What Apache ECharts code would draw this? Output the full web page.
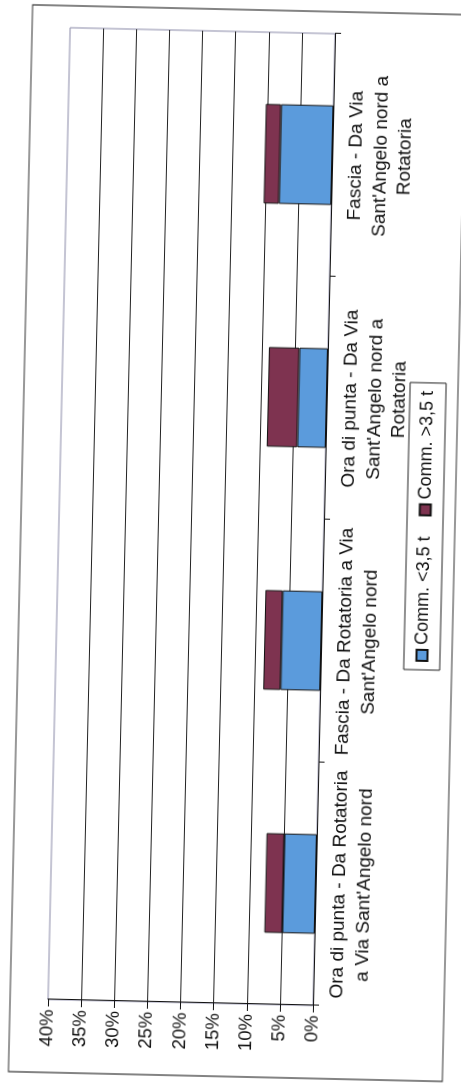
<!DOCTYPE html>
<html>
<head>
<meta charset="utf-8">
<script src="https://cdn.jsdelivr.net/npm/echarts@6/dist/echarts.min.js"></script>
<style>
  html, body { margin: 0; padding: 0; width: 461px; height: 1084px; overflow: hidden; background: #ffffff; }
  #chart { position: absolute; width: 1084px; height: 461px; left: -311.5px; top: 311.5px; transform: rotate(-88.7deg); }
</style>
</head>
<body>
<div id="chart"></div>
<script>
const categories = [
  "Ora di punta - Da Rotatoria\na Via Sant'Angelo nord",
  "Fascia - Da Rotatoria a Via\nSant'Angelo nord",
  "Ora di punta - Da Via\nSant'Angelo nord a\nRotatoria",
  "Fascia - Da Via\nSant'Angelo nord a\nRotatoria"
];
const seriesNames = ["Comm. <3,5 t", "Comm. >3,5 t"];
const commLight = [4.9, 6.0, 4.3, 7.9];
const commHeavy = [2.7, 2.6, 4.6, 2.3];
const yTicks = { min: 0, max: 40, interval: 5 };

const FONT = "'Liberation Sans', Arial, sans-serif";
const chart = echarts.init(document.getElementById('chart'), null, { renderer: 'canvas' });
chart.setOption({
  backgroundColor: '#ffffff',
  animation: false,
  textStyle: { fontFamily: FONT, color: '#111' },
  graphic: [{
    type: 'rect', z: -10, silent: true,
    shape: { x: 8, y: 20, width: 1067, height: 434 },
    style: { fill: 'none', stroke: '#333', lineWidth: 1.2 }
  }],
  grid: {
    left: 81, right: 31, top: 58, bottom: 138,
    show: true, borderColor: '#8a8aa8', borderWidth: 1, backgroundColor: '#ffffff'
  },
  legend: {
    data: seriesNames,
    left: 419, top: 406,
    orient: 'horizontal',
    icon: 'rect', itemWidth: 11, itemHeight: 11, itemGap: 20,
    padding: [9, 8],
    borderColor: '#222', borderWidth: 1,
    textStyle: { fontFamily: FONT, fontSize: 18, color: '#111' }
  },
  xAxis: {
    type: 'category',
    data: categories,
    axisLine: { show: true, lineStyle: { color: '#111', width: 1 } },
    axisTick: { show: true, interval: 0, length: 6, lineStyle: { color: '#111' } },
    axisLabel: { interval: 0, fontFamily: FONT, fontSize: 19, lineHeight: 24.5, margin: 12, color: '#111', align: 'center' },
    splitLine: { show: false }
  },
  yAxis: {
    type: 'value',
    min: yTicks.min, max: yTicks.max, interval: yTicks.interval,
    axisLine: { show: true, lineStyle: { color: '#111', width: 1 } },
    axisTick: { show: true, length: 7, lineStyle: { color: '#111' } },
    axisLabel: { formatter: '{value}%', fontFamily: FONT, fontSize: 18.5, margin: 10, color: '#111' },
    splitLine: { show: true, showMaxLine: false, lineStyle: { color: '#222', width: 1 } }
  },
  series: [
    {
      name: seriesNames[0], type: 'bar', stack: 'tot', barWidth: '41%',
      data: commLight,
      itemStyle: { color: '#5b9bdc', borderColor: '#111', borderWidth: 1 }
    },
    {
      name: seriesNames[1], type: 'bar', stack: 'tot', barWidth: '41%',
      data: commHeavy,
      itemStyle: { color: '#7e3350', borderColor: '#111', borderWidth: 1 }
    }
  ]
});
</script>
</body>
</html>
